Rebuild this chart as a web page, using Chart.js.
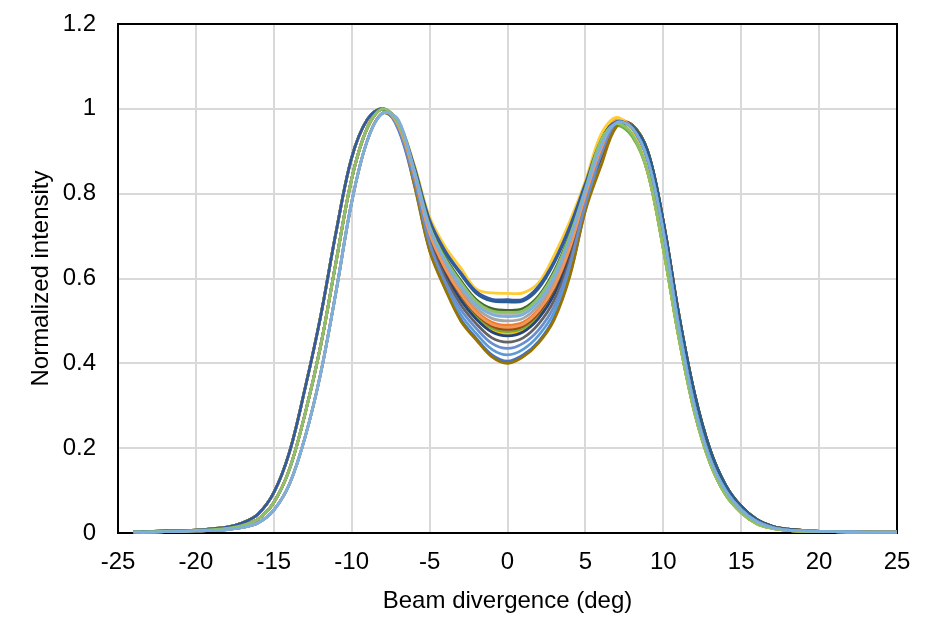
<!DOCTYPE html>
<html>
<head>
<meta charset="utf-8">
<script src="https://cdn.jsdelivr.net/npm/chart.js@4.4.1/dist/chart.umd.min.js"></script>
<style>
  html, body { margin: 0; padding: 0; background: #fff; }
  #wrap { width: 934px; height: 638px; }
</style>
</head>
<body>
<div id="wrap"><canvas id="beamChart" width="934" height="638"></canvas></div>
<script>
// beam divergence (deg), one point per degree
const divergence = [-24,-23,-22,-21,-20,-19,-18,-17,-16,-15,-14,-13,-12,-11,-10,-9,-8,-7,-6,-5,-4,-3,-2,-1,0,
  1,2,3,4,5,6,7,8,9,10,11,12,13,14,15,16,17,18,19,20,21,22,23,24,25];

// normalized intensity, one array per measured profile
const s1 = [0.003,0.003,0.004,0.005,0.006,0.008,0.011,0.018,0.033,0.072,0.15,0.28,0.44,0.64,0.835,0.955,1.0,0.951,0.825,
  0.667,0.578,0.504,0.459,0.420,0.405,0.420,0.452,0.508,0.609,0.762,0.882,
  0.97,0.955,0.88,0.71,0.485,0.30,0.175,0.10,0.055,0.027,0.013,0.007,0.005,0.004,0.003,0.003,0.002,0.002,0.002];
const s2 = [0.004,0.004,0.005,0.006,0.007,0.010,0.014,0.024,0.045,0.095,0.19,0.34,0.51,0.71,0.885,0.975,1.0,0.961,0.849,
  0.709,0.627,0.568,0.523,0.497,0.490,0.497,0.528,0.586,0.676,0.798,0.892,
  0.97,0.962,0.90,0.735,0.515,0.33,0.197,0.113,0.063,0.032,0.016,0.009,0.006,0.004,0.003,0.003,0.003,0.002,0.002];
const s3 = [0.003,0.003,0.004,0.005,0.006,0.008,0.011,0.018,0.033,0.072,0.15,0.28,0.44,0.64,0.835,0.955,1.0,0.962,0.852,
  0.713,0.634,0.576,0.531,0.506,0.500,0.506,0.537,0.595,0.684,0.802,0.910,
  0.97,0.955,0.88,0.71,0.485,0.30,0.175,0.10,0.055,0.027,0.013,0.007,0.005,0.004,0.003,0.003,0.002,0.002,0.002];
const s4 = [0.004,0.004,0.005,0.006,0.007,0.010,0.014,0.024,0.045,0.095,0.19,0.34,0.51,0.71,0.885,0.975,1.0,0.958,0.843,
  0.699,0.615,0.553,0.508,0.479,0.470,0.479,0.510,0.567,0.660,0.790,0.911,
  0.978,0.945,0.85,0.67,0.46,0.285,0.165,0.09,0.048,0.022,0.011,0.006,0.004,0.003,0.003,0.002,0.002,0.002,0.002];
const s5 = [0.002,0.002,0.003,0.004,0.005,0.006,0.008,0.013,0.024,0.054,0.115,0.225,0.375,0.57,0.78,0.925,0.99,0.962,0.829,
  0.675,0.585,0.515,0.470,0.433,0.420,0.433,0.466,0.521,0.621,0.768,0.886,
  0.965,0.955,0.88,0.71,0.485,0.30,0.175,0.10,0.055,0.027,0.013,0.007,0.005,0.004,0.003,0.003,0.002,0.002,0.002];
const s6 = [0.004,0.004,0.005,0.006,0.007,0.010,0.014,0.024,0.045,0.095,0.19,0.34,0.51,0.71,0.885,0.975,1.0,0.959,0.845,
  0.701,0.618,0.557,0.512,0.483,0.475,0.483,0.515,0.572,0.664,0.792,0.913,
  0.96,0.935,0.85,0.67,0.46,0.285,0.165,0.09,0.048,0.022,0.011,0.006,0.004,0.003,0.003,0.002,0.002,0.002,0.002];
const s7 = [0.003,0.003,0.004,0.005,0.006,0.008,0.011,0.018,0.033,0.072,0.15,0.28,0.44,0.64,0.835,0.955,1.0,0.958,0.842,
  0.697,0.611,0.549,0.504,0.474,0.465,0.474,0.506,0.563,0.656,0.788,0.885,
  0.962,0.962,0.90,0.735,0.515,0.33,0.197,0.113,0.063,0.032,0.016,0.009,0.006,0.004,0.003,0.003,0.003,0.002,0.002];
const s8 = [0.003,0.003,0.004,0.005,0.006,0.008,0.011,0.018,0.033,0.072,0.15,0.28,0.44,0.64,0.835,0.955,1.0,0.960,0.846,
  0.704,0.621,0.561,0.516,0.488,0.480,0.488,0.519,0.577,0.668,0.794,0.889,
  0.965,0.962,0.90,0.735,0.515,0.33,0.197,0.113,0.063,0.032,0.016,0.009,0.006,0.004,0.003,0.003,0.003,0.002,0.002];
const s9 = [0.002,0.002,0.003,0.004,0.005,0.006,0.008,0.013,0.024,0.054,0.115,0.225,0.375,0.57,0.78,0.925,0.99,0.966,0.838,
  0.689,0.602,0.538,0.493,0.460,0.450,0.460,0.493,0.549,0.644,0.781,0.895,
  0.97,0.955,0.88,0.71,0.485,0.30,0.175,0.10,0.055,0.027,0.013,0.007,0.005,0.004,0.003,0.003,0.002,0.002,0.002];
const s10 = [0.002,0.002,0.003,0.004,0.005,0.006,0.008,0.013,0.024,0.054,0.115,0.225,0.375,0.57,0.78,0.925,0.99,0.960,0.823,
  0.665,0.575,0.500,0.455,0.415,0.400,0.415,0.448,0.503,0.605,0.760,0.865,
  0.958,0.962,0.90,0.735,0.515,0.33,0.197,0.113,0.063,0.032,0.016,0.009,0.006,0.004,0.003,0.003,0.003,0.002,0.002];
const s11 = [0.004,0.004,0.005,0.006,0.007,0.010,0.014,0.024,0.045,0.095,0.19,0.34,0.51,0.71,0.885,0.975,1.0,0.968,0.865,
  0.735,0.662,0.610,0.565,0.547,0.545,0.547,0.577,0.637,0.719,0.822,0.909,
  0.968,0.960,0.90,0.735,0.515,0.33,0.197,0.113,0.063,0.032,0.016,0.009,0.006,0.004,0.003,0.003,0.003,0.002,0.002];
const s12 = [0.004,0.004,0.005,0.006,0.007,0.010,0.014,0.024,0.045,0.095,0.19,0.34,0.51,0.71,0.885,0.975,1.0,0.965,0.860,
  0.726,0.650,0.595,0.550,0.529,0.525,0.529,0.559,0.618,0.704,0.813,0.928,
  0.97,0.945,0.85,0.67,0.46,0.285,0.165,0.09,0.048,0.022,0.011,0.006,0.004,0.003,0.003,0.002,0.002,0.002,0.002];
const s13 = [0.003,0.003,0.004,0.005,0.006,0.008,0.011,0.018,0.033,0.072,0.15,0.28,0.44,0.64,0.835,0.955,1.0,0.954,0.834,
  0.682,0.592,0.527,0.482,0.447,0.435,0.447,0.479,0.535,0.633,0.775,0.891,
  0.968,0.955,0.88,0.71,0.485,0.30,0.175,0.10,0.055,0.027,0.013,0.007,0.005,0.004,0.003,0.003,0.002,0.002,0.002];
const s14 = [0.003,0.003,0.004,0.005,0.006,0.008,0.011,0.018,0.033,0.072,0.15,0.28,0.44,0.64,0.835,0.955,1.0,0.960,0.848,
  0.706,0.624,0.564,0.519,0.492,0.485,0.492,0.524,0.581,0.672,0.796,0.906,
  0.975,0.955,0.88,0.71,0.485,0.30,0.175,0.10,0.055,0.027,0.013,0.007,0.005,0.004,0.003,0.003,0.002,0.002,0.002];
const s15 = [0.002,0.002,0.003,0.004,0.005,0.006,0.008,0.013,0.024,0.054,0.115,0.225,0.375,0.57,0.78,0.925,0.99,0.974,0.857,
  0.721,0.643,0.587,0.542,0.520,0.515,0.520,0.550,0.609,0.696,0.809,0.915,
  0.97,0.955,0.88,0.71,0.485,0.30,0.175,0.10,0.055,0.027,0.013,0.007,0.005,0.004,0.003,0.003,0.002,0.002,0.002];
const s16 = [0.004,0.004,0.005,0.006,0.007,0.010,0.014,0.024,0.045,0.095,0.19,0.34,0.51,0.71,0.885,0.975,1.0,0.970,0.870,
  0.745,0.675,0.625,0.575,0.566,0.565,0.566,0.590,0.655,0.735,0.830,0.940,
  0.98,0.945,0.85,0.67,0.46,0.285,0.165,0.09,0.048,0.022,0.011,0.006,0.004,0.003,0.003,0.002,0.002,0.002,0.002];
const s17 = [0.004,0.004,0.005,0.006,0.007,0.010,0.014,0.024,0.045,0.095,0.19,0.34,0.51,0.71,0.885,0.975,1.0,0.968,0.866,
  0.738,0.665,0.614,0.569,0.551,0.550,0.551,0.582,0.641,0.723,0.824,0.925,
  0.97,0.955,0.88,0.71,0.485,0.30,0.175,0.10,0.055,0.027,0.013,0.007,0.005,0.004,0.003,0.003,0.002,0.002,0.002];
const s18 = [0.003,0.003,0.004,0.005,0.006,0.008,0.011,0.018,0.033,0.072,0.15,0.28,0.44,0.64,0.835,0.955,1.0,0.965,0.858,
  0.723,0.646,0.591,0.546,0.524,0.520,0.524,0.555,0.613,0.700,0.811,0.926,
  0.965,0.94,0.85,0.67,0.46,0.285,0.165,0.09,0.048,0.022,0.011,0.006,0.004,0.003,0.003,0.002,0.002,0.002,0.002];
const s19 = [0.002,0.002,0.003,0.004,0.005,0.006,0.008,0.013,0.024,0.054,0.115,0.225,0.375,0.57,0.78,0.925,0.99,0.973,0.855,
  0.718,0.640,0.583,0.538,0.515,0.510,0.515,0.546,0.604,0.692,0.807,0.913,
  0.968,0.955,0.88,0.71,0.485,0.30,0.175,0.10,0.055,0.027,0.013,0.007,0.005,0.004,0.003,0.003,0.002,0.002,0.002];

const profiles = [s1,s2,s3,s4,s5,s6,s7,s8,s9,s10,s11,s12,s13,s14,s15,s16,s17,s18,s19];
const colors = ['#4472C4','#ED7D31','#A5A5A5','#FFC000','#5B9BD5','#70AD47','#264478','#9E480E','#636363',
  '#997300','#255E91','#43682B','#698ED0','#F1975A','#B7B7B7','#FFCD33','#335AA1','#8CC168','#7CAFDD'];

const xTicks = [-25,-20,-15,-10,-5,0,5,10,15,20,25];
const yTicks = [0,0.2,0.4,0.6,0.8,1,1.2];

const font = { family: "'Liberation Sans', Arial, sans-serif", size: 24 };

// black frame round the plot area, under the lines
const plotFrame = {
  id: 'plotFrame',
  beforeDatasetsDraw(chart) {
    const a = chart.chartArea;
    const c = chart.ctx;
    c.save();
    c.strokeStyle = '#000';
    c.lineWidth = 2;
    c.strokeRect(a.left, a.top, a.right - a.left, a.bottom - a.top);
    c.restore();
  }
};

const datasets = profiles.map((vals, i) => ({
  label: 'Profile ' + (i + 1),
  data: vals.map((v, j) => ({ x: divergence[j], y: v })),
  borderColor: colors[i],
  backgroundColor: colors[i],
  borderWidth: 2.75,
  pointRadius: 0,
  tension: 0.35,
  clip: false,
  order: -i
}));

new Chart(document.getElementById('beamChart'), {
  type: 'line',
  data: { datasets },
  plugins: [plotFrame],
  options: {
    responsive: false,
    animation: false,
    layout: { padding: { top: 24, right: 37, left: 0, bottom: 0 } },
    plugins: { legend: { display: false }, tooltip: { enabled: false } },
    scales: {
      x: {
        type: 'linear',
        min: -25,
        max: 25,
        afterFit: s => { s.height = 105; },
        afterBuildTicks: s => { s.ticks = xTicks.map(v => ({ value: v })); },
        grid: { color: '#D9D9D9', lineWidth: 2, drawTicks: false },
        border: { display: false },
        ticks: { color: '#000', font, padding: 15, maxRotation: 0 },
        title: { display: true, text: 'Beam divergence (deg)', color: '#000', font, padding: { top: 0, bottom: 22 } }
      },
      y: {
        min: 0,
        max: 1.2,
        afterFit: s => { s.width = 118; s.paddingTop = 0; s.paddingBottom = 0; },
        afterBuildTicks: s => { s.ticks = yTicks.map(v => ({ value: v })); },
        grid: { color: '#D9D9D9', lineWidth: 2, drawTicks: false },
        border: { display: false },
        ticks: { color: '#000', font, padding: 22, callback: v => String(+v.toFixed(1)) },
        title: { display: true, text: 'Normalized intensity', color: '#000', font, padding: { top: 27, bottom: 0 } }
      }
    }
  }
});
</script>
</body>
</html>
